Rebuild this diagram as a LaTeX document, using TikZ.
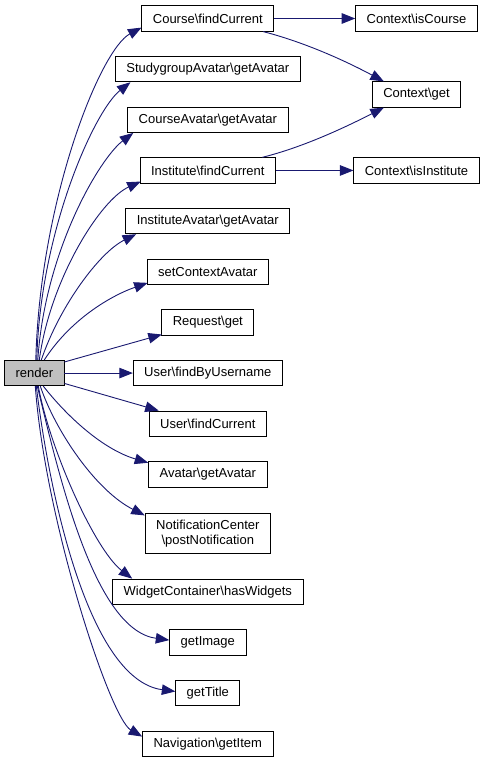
\documentclass[tikz,border=0pt]{standalone}
\usepackage{fontspec}
\setmainfont{Liberation Sans}
\usetikzlibrary{positioning, arrows.meta}

\definecolor{edgeblue}{HTML}{191970}

\begin{document}
\begin{tikzpicture}[x=1pt,y=1pt,node distance=50.65pt,
    fn/.style={draw=black,line width=0.8pt,rectangle,minimum height=25.4pt,inner xsep=11pt,inner ysep=2pt,font=\fontsize{13}{15}\selectfont,align=center},
    call/.style={draw=edgeblue,line width=0.9pt,-{Triangle[length=13.5pt,width=10.5pt]}}]
    \useasboundingbox (0,0) rectangle (487,-763);
    % called functions, one column
    \node[fn] (course)   at (207.8,-18.5)                        {Course\textbackslash findCurrent};
    \node[fn] (sgavatar) [below of=course]                       {StudygroupAvatar\textbackslash getAvatar};
    \node[fn] (cavatar)  [below of=sgavatar]                     {CourseAvatar\textbackslash getAvatar};
    \node[fn] (inst)     [below of=cavatar]                      {Institute\textbackslash findCurrent};
    \node[fn] (iavatar)  [below of=inst]                         {InstituteAvatar\textbackslash getAvatar};
    \node[fn] (setctx)   [below of=iavatar]                      {setContextAvatar};
    \node[fn] (request)  [below of=setctx]                       {Request\textbackslash get};
    \node[fn] (byname)   [below of=request]                      {User\textbackslash findByUsername};
    \node[fn] (ucurrent) [below of=byname]                       {User\textbackslash findCurrent};
    \node[fn] (avatar)   [below of=ucurrent]                     {Avatar\textbackslash getAvatar};
    \node[fn,inner ysep=6pt] (notif) [below of=avatar, node distance=59pt] {NotificationCenter\\\textbackslash postNotification};
    \node[fn] (widget)   [below of=notif, node distance=58.4pt]  {WidgetContainer\textbackslash hasWidgets};
    \node[fn] (getimage) [below of=widget]                       {getImage};
    \node[fn] (gettitle) [below of=getimage]                     {getTitle};
    \node[fn] (nav)      [below of=gettitle]                     {Navigation\textbackslash getItem};
    % caller and second level
    \node[fn,fill=gray!50] (render) [left of=byname, node distance=173.5pt] {render};
    \node[fn] (iscourse) [right of=course, node distance=208.7pt] {Context\textbackslash isCourse};
    \node[fn] (ctxget)   [below of=iscourse, node distance=76pt] {Context\textbackslash get};
    \node[fn] (isinst)   [right of=inst, node distance=208.7pt]   {Context\textbackslash isInstitute};
    % second level calls
    \draw[call] (course.east) -- (iscourse.west);
    \draw[call] ([xshift=-11pt]course.south east) .. controls (300,-41) and (340,-58) .. ([xshift=12pt]ctxget.north west);
    \draw[call] ([xshift=-13.7pt]inst.north east) .. controls (300,-148) and (340,-130) .. ([xshift=12pt]ctxget.south west);
    \draw[call] (inst.east) -- (isinst.west);
    % calls from render
    \draw[call] ([xshift=1.5pt]render.north) .. controls (40,-200) and (100,-50) .. ([yshift=4pt]course.south west);
    \draw[call] ([xshift=2.5pt]render.north) .. controls (40,-230) and (95,-110) .. ([xshift=15.5pt]sgavatar.south west);
    \draw[call] ([xshift=3.5pt]render.north) .. controls (45,-250) and (100,-158) .. ([xshift=6pt]cavatar.south west);
    \draw[call] ([xshift=5pt]render.north) .. controls (50,-280) and (100,-200) .. ([xshift=1pt,yshift=2pt]inst.south west);
    \draw[call] ([xshift=7pt]render.north) .. controls (60,-305) and (100,-252) .. ([xshift=10.7pt]iavatar.south west);
    \draw[call] ([xshift=10pt]render.north) .. controls (70,-320) and (110,-296) .. ([xshift=1pt,yshift=2pt]setctx.south west);
    \draw[call] ([yshift=-2pt]render.north east) -- ([xshift=0.5pt,yshift=1pt]request.south west);
    \draw[call] (render.east) -- (byname.west);
    \draw[call] ([yshift=2.7pt]render.south east) -- ([xshift=10pt]ucurrent.north west);
    \draw[call] ([xshift=9pt]render.south) .. controls (70,-420) and (105,-450) .. ([yshift=-1.5pt]avatar.north west);
    \draw[call] ([xshift=6pt]render.south) .. controls (55,-430) and (95,-490) .. ([yshift=-2pt]notif.north west);
    \draw[call] ([xshift=4pt]render.south) .. controls (50,-450) and (95,-550) .. ([xshift=20pt]widget.north west);
    \draw[call] ([xshift=3pt]render.south) .. controls (60,-480) and (95,-630) .. ([yshift=2.3pt]getimage.west);
    \draw[call] ([xshift=2pt]render.south) .. controls (50,-500) and (90,-680) .. ([yshift=1.6pt]gettitle.west);
    \draw[call] ([xshift=1pt]render.south) .. controls (45,-520) and (110,-718) .. ([yshift=-6pt]nav.north west);
\end{tikzpicture}
\end{document}
